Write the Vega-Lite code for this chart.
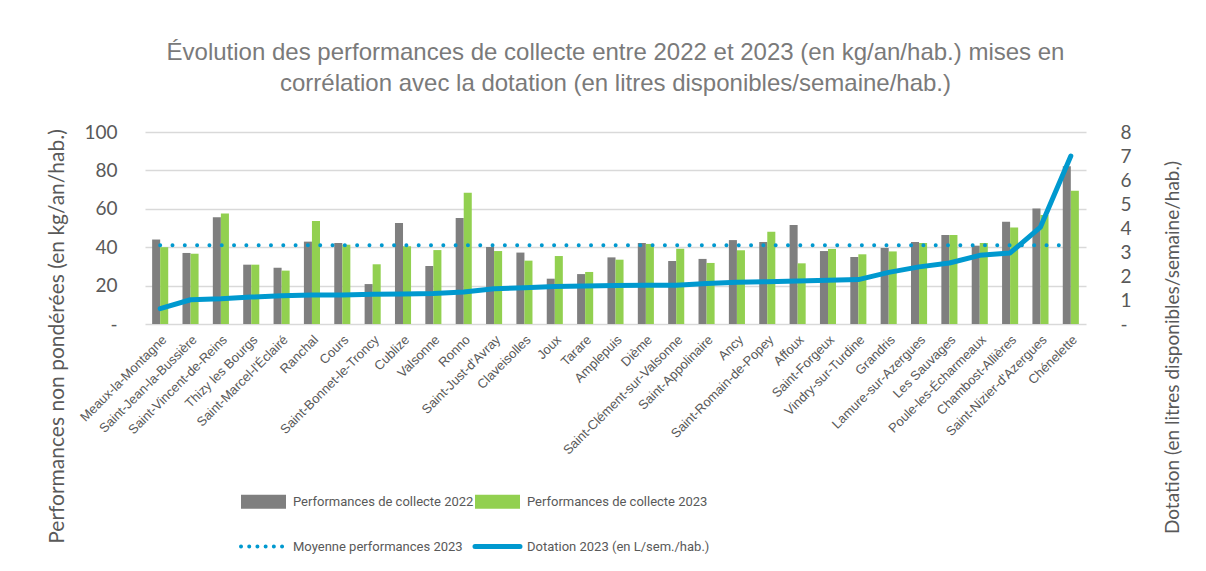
{
  "$schema": "https://vega.github.io/schema/vega-lite/v6.json",
  "width": 941,
  "height": 192,
  "autosize": {"type": "none"},
  "padding": {"left": 145, "top": 132, "right": 120, "bottom": 247},
  "background": "white",
  "config": {"view": {"stroke": null}, "font": "Liberation Sans"},
  "title": {
    "text": ["Évolution des performances de collecte entre 2022 et 2023 (en kg/an/hab.) mises en", "corrélation avec la dotation (en litres disponibles/semaine/hab.)"],
    "font": "Liberation Sans",
    "fontSize": 24,
    "fontWeight": "normal",
    "color": "#7a7a7a",
    "anchor": "middle",
    "offset": 27,
    "lineHeight": 31
  },
  "data": {
    "values": [
      {"commune": "Meaux-la-Montagne", "p2022": 44, "p2023": 40, "moyenne": 41, "dotation": 0.64},
      {"commune": "Saint-Jean-la-Bussière", "p2022": 37, "p2023": 36.6, "moyenne": 41, "dotation": 1.01},
      {"commune": "Saint-Vincent-de-Reins", "p2022": 55.6, "p2023": 57.5, "moyenne": 41, "dotation": 1.05},
      {"commune": "Thizy les Bourgs", "p2022": 30.9, "p2023": 30.9, "moyenne": 41, "dotation": 1.12},
      {"commune": "Saint-Marcel-l'Éclairé", "p2022": 29.3, "p2023": 27.8, "moyenne": 41, "dotation": 1.18},
      {"commune": "Ranchal", "p2022": 42.9, "p2023": 53.6, "moyenne": 41, "dotation": 1.21},
      {"commune": "Cours", "p2022": 42.2, "p2023": 41.3, "moyenne": 41, "dotation": 1.21},
      {"commune": "Saint-Bonnet-le-Troncy", "p2022": 20.8, "p2023": 31.1, "moyenne": 41, "dotation": 1.24},
      {"commune": "Cublize", "p2022": 52.6, "p2023": 40.5, "moyenne": 41, "dotation": 1.25},
      {"commune": "Valsonne", "p2022": 30.2, "p2023": 38.5, "moyenne": 41, "dotation": 1.27},
      {"commune": "Ronno", "p2022": 55.2, "p2023": 68.4, "moyenne": 41, "dotation": 1.33},
      {"commune": "Saint-Just-d'Avray", "p2022": 40.1, "p2023": 38, "moyenne": 41, "dotation": 1.47},
      {"commune": "Claveisolles", "p2022": 37.2, "p2023": 33, "moyenne": 41, "dotation": 1.51},
      {"commune": "Joux", "p2022": 23.6, "p2023": 35.4, "moyenne": 41, "dotation": 1.56},
      {"commune": "Tarare", "p2022": 26, "p2023": 27.1, "moyenne": 41, "dotation": 1.58},
      {"commune": "Amplepuis", "p2022": 34.7, "p2023": 33.5, "moyenne": 41, "dotation": 1.6},
      {"commune": "Dième", "p2022": 42.2, "p2023": 41.7, "moyenne": 41, "dotation": 1.61},
      {"commune": "Saint-Clément-sur-Valsonne", "p2022": 32.8, "p2023": 39.2, "moyenne": 41, "dotation": 1.61},
      {"commune": "Saint-Appolinaire", "p2022": 33.9, "p2023": 31.8, "moyenne": 41, "dotation": 1.69},
      {"commune": "Ancy", "p2022": 43.7, "p2023": 38.4, "moyenne": 41, "dotation": 1.74},
      {"commune": "Saint-Romain-de-Popey", "p2022": 42.7, "p2023": 48.1, "moyenne": 41, "dotation": 1.76},
      {"commune": "Affoux", "p2022": 51.6, "p2023": 31.6, "moyenne": 41, "dotation": 1.79},
      {"commune": "Saint-Forgeux", "p2022": 38, "p2023": 39.1, "moyenne": 41, "dotation": 1.82},
      {"commune": "Vindry-sur-Turdine", "p2022": 34.9, "p2023": 36.3, "moyenne": 41, "dotation": 1.85},
      {"commune": "Grandris", "p2022": 39.6, "p2023": 37.8, "moyenne": 41, "dotation": 2.15},
      {"commune": "Lamure-sur-Azergues", "p2022": 42.7, "p2023": 42.2, "moyenne": 41, "dotation": 2.38},
      {"commune": "Les Sauvages", "p2022": 46.4, "p2023": 46.4, "moyenne": 41, "dotation": 2.54},
      {"commune": "Poule-les-Écharmeaux", "p2022": 40.8, "p2023": 42.2, "moyenne": 41, "dotation": 2.86},
      {"commune": "Chambost-Allières", "p2022": 53.3, "p2023": 50.2, "moyenne": 41, "dotation": 2.96},
      {"commune": "Saint-Nizier-d'Azergues", "p2022": 60.1, "p2023": 56.8, "moyenne": 41, "dotation": 4.04},
      {"commune": "Chénelette", "p2022": 82.1, "p2023": 69.4, "moyenne": 41, "dotation": 7.0}
    ]
  },
  "encoding": {
    "x": {
      "field": "commune",
      "type": "nominal",
      "sort": null,
      "scale": {"paddingInner": 0.47, "paddingOuter": 0.235},
      "axis": {
        "title": null,
        "domain": false,
        "ticks": false,
        "labelAngle": -45,
        "labelFont": "Liberation Sans",
        "labelFontSize": 13,
        "labelColor": "#595959",
        "labelPadding": 9,
        "labelOverlap": false,
        "labelLimit": 300
      }
    }
  },
  "layer": [
    {
      "layer": [
        {
          "transform": [{"fold": ["p2022", "p2023"], "as": ["serie", "valeur"]}],
          "mark": {"type": "bar"},
          "encoding": {
            "xOffset": {"field": "serie", "type": "nominal", "scale": {"paddingInner": 0, "paddingOuter": 0}},
            "y": {
              "field": "valeur",
              "type": "quantitative",
              "scale": {"domain": [0, 100], "nice": false},
              "axis": {
                "values": [0, 20, 40, 60, 80, 100],
                "labelExpr": "datum.value == 0 ? '-' : datum.label",
                "labelOverlap": false,
                "domain": false,
                "ticks": false,
                "grid": true,
                "gridColor": "#d9d9d9",
                "gridWidth": 1.5,
                "gridOpacity": 1,
                "labelFont": "Lato",
                "labelFontSize": 19,
                "labelColor": "#595959",
                "labelPadding": 28,
                "title": "Performances non pondérées (en kg/an/hab.)",
                "titleFont": "Lato",
                "titleFontSize": 21,
                "titleFontWeight": "normal",
                "titleColor": "#595959",
                "titleAngle": 270,
                "titleBaseline": "middle",
                "titleAlign": "center",
                "titleX": -88,
                "titleY": 204
              }
            },
            "color": {
              "field": "serie",
              "type": "nominal",
              "scale": {
                "domain": ["p2022", "p2023", "moy", "dot"],
                "range": ["#7F7F7F", "#92D050", "#0099CF", "#0099CF"]
              },
              "legend": {
                "orient": "none",
                "legendX": 112,
                "legendY": 363,
                "padding": 0,
                "title": null,
                "columns": 2,
                "direction": "horizontal",
                "columnPadding": -9,
                "rowPadding": 27,
                "symbolSize": 2025,
                "labelFont": "Roboto",
                "labelFontSize": 13,
                "labelColor": "#595959",
                "labelOffset": 23,
                "labelLimit": 400,
                "labelExpr": "datum.value == 'p2022' ? 'Performances de collecte 2022' : datum.value == 'p2023' ? 'Performances de collecte 2023' : datum.value == 'moy' ? 'Moyenne performances 2023' : 'Dotation 2023 (en L/sem./hab.)'",
                "encode": {
                  "symbols": {
                    "update": {
                      "shape": {"signal": "datum.value == 'p2022' || datum.value == 'p2023' ? 'M-1,-0.31H1V0.31H-1Z' : 'stroke'"},
                      "fill": {"signal": "datum.value == 'p2022' ? '#7F7F7F' : datum.value == 'p2023' ? '#92D050' : 'transparent'"},
                      "stroke": {"signal": "datum.value == 'p2022' || datum.value == 'p2023' ? 'transparent' : '#0099CF'"},
                      "strokeWidth": {"signal": "datum.value == 'dot' ? 5 : datum.value == 'moy' ? 4 : 0"},
                      "strokeDash": {"signal": "datum.value == 'moy' ? [0.01, 8.2] : [1, 0]"},
                      "strokeCap": {"value": "round"},
                      "opacity": {"value": 1}
                    }
                  }
                }
              }
            }
          }
        },
        {
          "mark": {"type": "line", "strokeDash": [0.01, 12.3], "strokeCap": "round", "strokeWidth": 4},
          "encoding": {
            "y": {
              "field": "moyenne",
              "type": "quantitative",
              "scale": {"domain": [0, 100], "nice": false},
              "axis": {
                "values": [0, 20, 40, 60, 80, 100],
                "labelExpr": "datum.value == 0 ? '-' : datum.label",
                "labelOverlap": false,
                "domain": false,
                "ticks": false,
                "grid": true,
                "gridColor": "#d9d9d9",
                "gridWidth": 1.5,
                "gridOpacity": 1,
                "labelFont": "Lato",
                "labelFontSize": 19,
                "labelColor": "#595959",
                "labelPadding": 28,
                "title": "Performances non pondérées (en kg/an/hab.)",
                "titleFont": "Lato",
                "titleFontSize": 21,
                "titleFontWeight": "normal",
                "titleColor": "#595959",
                "titleAngle": 270,
                "titleBaseline": "middle",
                "titleAlign": "center",
                "titleX": -88,
                "titleY": 204
              }
            },
            "color": {"datum": "moy", "type": "nominal"}
          }
        }
      ]
    },
    {
      "mark": {"type": "line", "strokeWidth": 5, "strokeCap": "round", "strokeJoin": "round"},
      "encoding": {
        "y": {
          "field": "dotation",
          "type": "quantitative",
          "scale": {"domain": [0, 8], "nice": false},
          "axis": {
            "orient": "right",
            "values": [0, 1, 2, 3, 4, 5, 6, 7, 8],
            "labelExpr": "datum.value == 0 ? '-' : datum.label",
            "labelOverlap": false,
            "domain": false,
            "ticks": false,
            "grid": false,
            "labelFont": "Lato",
            "labelFontSize": 19,
            "labelColor": "#595959",
            "labelPadding": 34,
            "title": "Dotation (en litres disponibles/semaine/hab.)",
            "titleFont": "Lato",
            "titleFontSize": 19,
            "titleFontWeight": "normal",
            "titleColor": "#595959",
            "titleAngle": 270,
            "titleBaseline": "middle",
            "titleAlign": "center",
            "titleX": 86,
            "titleY": 215
          }
        },
        "color": {"datum": "dot", "type": "nominal"}
      }
    }
  ],
  "resolve": {"scale": {"y": "independent"}}
}
